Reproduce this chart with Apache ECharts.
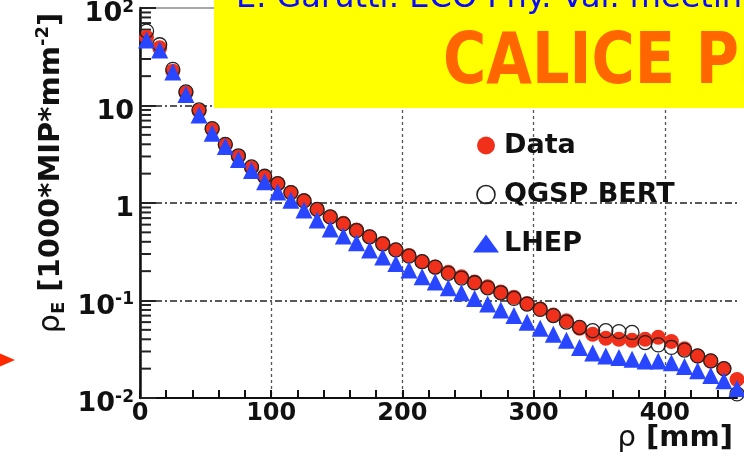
<!DOCTYPE html>
<html>
<head>
<meta charset="utf-8">
<script src="https://cdn.jsdelivr.net/npm/echarts@6/dist/echarts.min.js"></script>
<style>
  html, body { margin: 0; padding: 0; background: #fff; }
  #chart { width: 744px; height: 460px; }
</style>
</head>
<body>
<div id="chart"></div>
<script>
// ---- data ----
const rho = [5, 15, 25, 35, 45, 55, 65, 75, 85, 95,
  105, 115, 125, 135, 145, 155, 165, 175, 185, 195,
  205, 215, 225, 235, 245, 255, 265, 275, 285, 295,
  305, 315, 325, 335, 345, 355, 365, 375, 385, 395,
  405, 415, 425, 435, 445, 455];

const dataVals = [50, 39, 22.5, 13.5, 8.8, 5.7, 3.95, 3.0, 2.3, 1.85,
  1.58, 1.28, 1.06, 0.86, 0.72, 0.62, 0.53, 0.45, 0.385, 0.33,
  0.29, 0.25, 0.22, 0.195, 0.175, 0.155, 0.138, 0.122, 0.108, 0.093,
  0.082, 0.071, 0.062, 0.052, 0.045, 0.041, 0.040, 0.039, 0.040, 0.042,
  0.038, 0.032, 0.027, 0.024, 0.020, 0.0155];

const qgspVals = [58, 42, 23.5, 13.8, 9.0, 5.8, 4.0, 3.05, 2.35, 1.88,
  1.58, 1.28, 1.05, 0.86, 0.72, 0.61, 0.52, 0.45, 0.38, 0.33,
  0.285, 0.25, 0.22, 0.19, 0.17, 0.152, 0.135, 0.12, 0.105, 0.092,
  0.081, 0.070, 0.060, 0.053, 0.049, 0.049, 0.048, 0.047, 0.037, 0.035,
  0.033, 0.031, 0.027, 0.024, 0.020, 0.011];

const lhepVals = [47, 37, 22, 13, 8.0, 5.2, 3.8, 2.8, 2.15, 1.65,
  1.3, 1.07, 0.85, 0.67, 0.54, 0.46, 0.39, 0.33, 0.28, 0.24,
  0.205, 0.175, 0.155, 0.135, 0.12, 0.105, 0.092, 0.08, 0.07, 0.06,
  0.052, 0.045, 0.039, 0.033, 0.029, 0.027, 0.026, 0.025, 0.024, 0.024,
  0.023, 0.021, 0.019, 0.017, 0.015, 0.0125];

const seriesNames = ['Data', 'QGSP BERT', 'LHEP'];

const xLabelTicks = [0, 100, 200, 300, 400];

const yTicks = [0.01, 0.1, 1, 10, 100];
const yTickBase = ['10', '10', '1', '10', '10'];
const yTickExp = ['-2', '-1', '', '', '2'];
const yMinorTicks = [0.02, 0.03, 0.04, 0.05, 0.06, 0.07, 0.08, 0.09,
  0.2, 0.3, 0.4, 0.5, 0.6, 0.7, 0.8, 0.9,
  2, 3, 4, 5, 6, 7, 8, 9,
  20, 30, 40, 50, 60, 70, 80, 90];

const headerLine = 'E. Garutti: ECO Phy. Val. meeting';
const bannerText = 'CALICE Preliminary';

// ---- chart ----
const FONT = 'DejaVu Sans';
const pairs = vals => rho.map((r, i) => [r, vals[i]]);

const chart = echarts.init(document.getElementById('chart'), null, { renderer: 'canvas' });

const option = {
  backgroundColor: '#ffffff',
  animation: false,
  grid: { left: 140, right: 7, top: 8, bottom: 62, containLabel: false, outerBoundsMode: 'none' },
  legend: {
    orient: 'vertical',
    left: 468,
    top: 126,
    itemWidth: 26,
    itemHeight: 18,
    itemGap: 20,
    selectedMode: false,
    textStyle: { fontFamily: FONT, fontWeight: 'bold', fontSize: 27, color: '#111', lineHeight: 29 },
    data: [
      { name: seriesNames[0], icon: 'circle' },
      { name: seriesNames[1], icon: 'circle', itemStyle: { color: 'rgba(255,255,255,0)', borderColor: '#222', borderWidth: 1.6 } },
      { name: seriesNames[2], icon: 'triangle' }
    ]
  },
  xAxis: [
    {
      type: 'value', min: 0, max: 455, interval: 20, position: 'bottom',
      axisLine: { show: true, lineStyle: { color: '#111', width: 2 } },
      axisTick: { show: true, inside: true, length: 8, lineStyle: { color: '#111', width: 2 } },
      axisLabel: {
        show: true, margin: 4, fontFamily: FONT, fontWeight: 'bold', fontSize: 24, color: '#111',
        showMaxLabel: false,
        formatter: v => (xLabelTicks.indexOf(v) >= 0 ? String(v) : '')
      },
      splitLine: { show: false },
      name: '{r|ρ}{m| [mm]}',
      nameLocation: 'end',
      nameGap: -4,
      nameMoveOverlap: false,
      nameTextStyle: {
        align: 'right', verticalAlign: 'top', padding: [26, 0, 0, 0],
        rich: {
          r: { fontFamily: FONT, fontSize: 29, color: '#111' },
          m: { fontFamily: FONT, fontWeight: 'bold', fontSize: 29, color: '#111' }
        }
      }
    },
    {
      type: 'value', min: 0, max: 455, interval: 100, position: 'top', offset: 0,
      axisLine: { show: true, lineStyle: { color: '#8a8a8a', width: 1.5 } },
      axisTick: { show: false },
      axisLabel: { show: false },
      splitLine: { show: true, showMinLine: false, showMaxLine: false, lineStyle: { color: '#555', width: 1.3, type: [3, 3] } }
    }
  ],
  yAxis: [
    {
      type: 'log', logBase: 10, min: 0.01, max: 100, position: 'left',
      axisLine: { show: true, lineStyle: { color: '#808080', width: 2 } },
      axisTick: { show: true, inside: true, length: 16, lineStyle: { color: '#222', width: 2 } },
      axisLabel: {
        margin: 6,
        padding: [12, 0, 0, 0],
        formatter: function (v) {
          const lv = Math.log10(v);
          const i = yTicks.findIndex(t => Math.abs(Math.log10(t) - lv) < 1e-6);
          if (i < 0) return '';
          return yTickExp[i] ? '{b|' + yTickBase[i] + '}{s|' + yTickExp[i] + '}' : '{b|' + yTickBase[i] + '}';
        },
        rich: {
          b: { fontFamily: FONT, fontWeight: 'bold', fontSize: 27, color: '#111', lineHeight: 30 },
          s: { fontFamily: FONT, fontWeight: 'bold', fontSize: 17, color: '#111', verticalAlign: 'top', lineHeight: 30 }
        }
      },
      splitLine: { show: true, showMinLine: false, showMaxLine: false, lineStyle: { color: '#222', width: 1.5, type: [7, 3, 2, 3] } },
      name: '{r|ρ}{e|E}{m| [1000*MIP*mm}{s|-2}{m|]}',
      nameLocation: 'middle',
      nameRotate: 90,
      nameGap: 72,
      nameMoveOverlap: false,
      nameTextStyle: {
        padding: [0, 0, 0, 60],
        rich: {
          r: { fontFamily: FONT, fontSize: 30, color: '#111', lineHeight: 34 },
          e: { fontFamily: FONT, fontWeight: 'bold', fontSize: 18, color: '#111', verticalAlign: 'bottom', lineHeight: 34 },
          m: { fontFamily: FONT, fontWeight: 'bold', fontSize: 29, color: '#111', lineHeight: 34 },
          s: { fontFamily: FONT, fontWeight: 'bold', fontSize: 18, color: '#111', verticalAlign: 'top', lineHeight: 34 }
        }
      }
    },
    {
      type: 'log', logBase: 10, min: 0.01, max: 100, position: 'right', offset: 0,
      axisLine: { show: true, lineStyle: { color: '#111', width: 2.5 } },
      axisTick: { show: false },
      axisLabel: { show: false },
      splitLine: { show: false }
    }
  ],
  series: [
    {
      // minor ticks of the log axis (2..9 in every decade), placed through the axis scale
      name: 'minorTicks', type: 'custom', xAxisIndex: 0, yAxisIndex: 0,
      silent: true, clip: false, z: 1,
      data: yMinorTicks.map(v => [0, v]),
      renderItem: function (params, api) {
        const p = api.coord([0, api.value(1)]);
        return {
          type: 'line',
          shape: { x1: p[0], y1: p[1], x2: p[0] + 11, y2: p[1] },
          style: { stroke: '#222', lineWidth: 2 }
        };
      }
    },
    {
      name: seriesNames[0], type: 'scatter', xAxisIndex: 0, yAxisIndex: 0,
      symbol: 'circle', symbolSize: 15,
      itemStyle: { color: '#f0301a', opacity: 1 },
      data: pairs(dataVals), z: 2
    },
    {
      name: seriesNames[1], type: 'scatter', xAxisIndex: 0, yAxisIndex: 0,
      symbol: 'circle', symbolSize: 14,
      itemStyle: { color: 'rgba(255,255,255,0)', borderColor: '#222', borderWidth: 1.3, opacity: 1 },
      data: pairs(qgspVals), z: 3
    },
    {
      name: seriesNames[2], type: 'scatter', xAxisIndex: 0, yAxisIndex: 0,
      symbol: 'triangle', symbolSize: 17,
      itemStyle: { color: '#2846ff', opacity: 1 },
      data: pairs(lhepVals), z: 4
    }
  ],
  graphic: [
    { type: 'rect', z: 100, shape: { x: 214, y: 0, width: 540, height: 108 }, style: { fill: '#ffff00' } },
    { type: 'text', z: 101, x: 236, y: 15, style: { text: headerLine, font: '32px "DejaVu Sans"', fill: '#0a0aff', verticalAlign: 'bottom' } },
    { type: 'text', z: 101, x: 443, y: 28, scaleY: 1.22, style: { text: bannerText, font: 'bold 59px "DejaVu Sans"', fill: '#ff6600', verticalAlign: 'top' } },
    { type: 'polygon', z: 101, shape: { points: [[-8, 350], [15, 360], [-8, 370]] }, style: { fill: '#ff2a00' } }
  ]
};

chart.setOption(option);
</script>
</body>
</html>
